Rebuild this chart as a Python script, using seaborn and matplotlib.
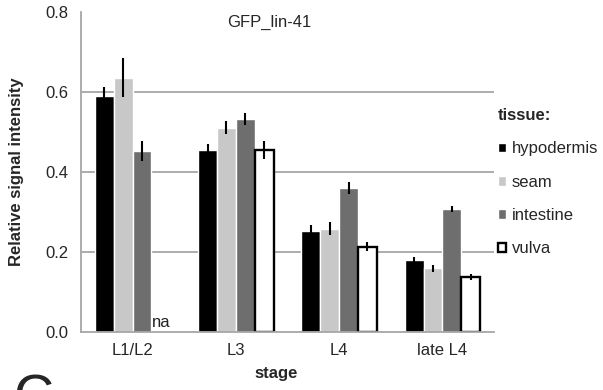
import numpy as np
import pandas as pd
import matplotlib
matplotlib.use("Agg")
import matplotlib.pyplot as plt
import seaborn as sns

# values
stages = ["L1/L2", "L3", "L4", "late L4"]
tissues = ["hypodermis", "seam", "intestine", "vulva"]
hypodermis = [0.590, 0.455, 0.253, 0.179]
seam = [0.636, 0.511, 0.258, 0.159]
intestine = [0.453, 0.533, 0.360, 0.308]
vulva = [None, 0.455, 0.213, 0.138]  # L1/L2 vulva: na
hypodermis_err = [0.023, 0.015, 0.014, 0.009]
seam_err = [0.048, 0.016, 0.016, 0.008]
intestine_err = [0.025, 0.015, 0.016, 0.008]
vulva_err = [None, 0.022, 0.011, 0.008]
colors = ["#000000", "#c8c8c8", "#6e6e6e", "#ffffff"]
yticks = [0.0, 0.2, 0.4, 0.6, 0.8]

values = {"hypodermis": hypodermis, "seam": seam, "intestine": intestine, "vulva": vulva}
errors = {"hypodermis": hypodermis_err, "seam": seam_err, "intestine": intestine_err, "vulva": vulva_err}

rows = []
for t in tissues:
    for i, s in enumerate(stages):
        if values[t][i] is not None:
            rows.append({"stage": s, "tissue": t, "value": values[t][i]})
df = pd.DataFrame(rows)

sns.set_style("white")
plt.rcParams["font.family"] = ["Liberation Sans", "DejaVu Sans"]
plt.rcParams["font.size"] = 12

fig = plt.figure(figsize=(6.03, 3.9), dpi=100)
ax = fig.add_axes([0.1343, 0.1487, 0.6849, 0.8205])

sns.barplot(data=df, x="stage", y="value", hue="tissue", order=stages,
            hue_order=tissues, palette=colors, width=0.73, errorbar=None,
            saturation=1, ax=ax)

# outline the white vulva bars and add error bars
grid_c = "#a6a6a6"
for t, cont in zip(tissues, ax.containers):
    for bar in cont:
        if t == "vulva":
            bar.set_edgecolor("black")
            bar.set_linewidth(1.7)
        xc = bar.get_x() + bar.get_width() / 2
        idx = int(round(xc))
        ax.errorbar(xc, bar.get_height(), yerr=errors[t][idx], fmt="none",
                    ecolor="black", elinewidth=1.5, capsize=0, zorder=5)

# "na" where there is no vulva at L1/L2
na_x = 0 + (3 - 1.5) * 0.73 / 4
ax.text(na_x, 0.004, "na", ha="center", va="bottom", fontsize=12, color="#222222")

ax.set_ylim(0, 0.8)
ax.set_xlim(-0.5, 3.5)
ax.set_yticks(yticks)
ax.set_yticklabels([f"{v:.1f}" for v in yticks])
ax.yaxis.grid(True, color=grid_c, linewidth=1.3)
ax.get_ygridlines()[0].set_visible(False)
ax.get_ygridlines()[-1].set_visible(False)
ax.set_axisbelow(True)

ax.set_xticks(range(len(stages)))
ax.set_xticklabels(stages)
ax.set_xticks(np.arange(-0.5, 4, 1), minor=True)
ax.tick_params(axis="x", which="major", length=0, pad=8, labelsize=12)
ax.tick_params(axis="x", which="minor", length=5, width=1.3, color=grid_c, direction="out")
ax.tick_params(axis="y", length=5, width=1.3, color=grid_c, direction="out", pad=4, labelsize=12)

sns.despine(ax=ax)
for side in ["left", "bottom"]:
    ax.spines[side].set_color(grid_c)
    ax.spines[side].set_linewidth(1.3)

ax.set_xlabel("stage", fontweight="bold", fontsize=12)
ax.set_ylabel("Relative signal intensity", fontweight="bold", fontsize=12)
ax.xaxis.set_label_coords((277 - 81) / 414, -0.105)
ax.yaxis.set_label_coords(-0.138, 0.5)

ax.text(0.4565, 0.969, "GFP_lin-41", transform=ax.transAxes, ha="center",
        va="center", fontsize=12)

sns.move_legend(ax, loc="upper left", bbox_to_anchor=(1.01, 0.70),
                frameon=False, title="tissue:", borderpad=0, borderaxespad=0,
                handlelength=0.5, handleheight=0.5, handletextpad=0.3,
                labelspacing=1.1, alignment="left", fontsize=12,
                title_fontsize=12)
leg = ax.get_legend()
leg.get_title().set_fontweight("bold")
vh = leg.legend_handles[3]
vh.set_edgecolor("black")
vh.set_linewidth(1.7)

# partial panel letter at bottom left
fig.text(13 / 603, -0.059, "C", fontsize=40, ha="left", va="baseline")

fig.savefig("out.png", dpi=100)
